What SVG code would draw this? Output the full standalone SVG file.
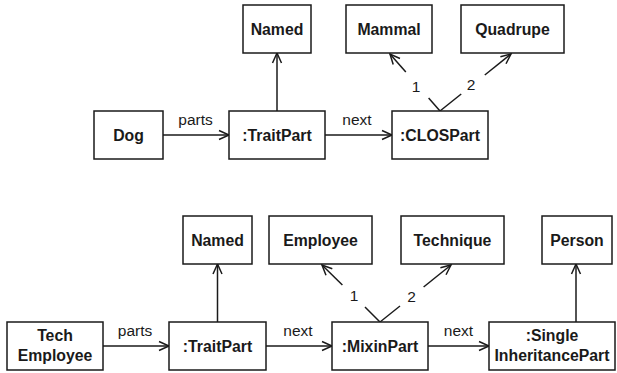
<svg xmlns="http://www.w3.org/2000/svg" width="617" height="373" viewBox="0 0 617 373">
<style>
.box{fill:#fff;stroke:#1a1a1a;stroke-width:1.5}
.t{font-family:"Liberation Sans",Arial,sans-serif;font-size:15.8px;font-weight:bold;fill:#1a1a1a;text-anchor:middle}
.l{font-family:"Liberation Sans",Arial,sans-serif;font-size:15.5px;fill:#1a1a1a;text-anchor:middle}
.c{fill:none;stroke:#1a1a1a;stroke-width:1.5}
</style>
<defs>
<marker id="ah" markerUnits="userSpaceOnUse" markerWidth="12" markerHeight="12" refX="10" refY="5" orient="auto" overflow="visible">
<path d="M0,0.5 L10,5 L0,9.5" fill="none" stroke="#1a1a1a" stroke-width="1.5"/>
</marker>
</defs>
<g id="connectors">
<line class="c" x1="163" y1="135" x2="229" y2="135" marker-end="url(#ah)"/>
<line class="c" x1="325" y1="135" x2="392" y2="135" marker-end="url(#ah)"/>
<line class="c" x1="277" y1="111" x2="277" y2="53" marker-end="url(#ah)"/>
<line class="c" x1="440" y1="111" x2="428.6" y2="98"/>
<line class="c" x1="405.8" y1="72" x2="390" y2="54" marker-end="url(#ah)"/>
<line class="c" x1="440" y1="111" x2="461.2" y2="94"/>
<line class="c" x1="484.8" y1="75" x2="511" y2="54" marker-end="url(#ah)"/>
<line class="c" x1="103" y1="346" x2="169" y2="346" marker-end="url(#ah)"/>
<line class="c" x1="266" y1="346" x2="332" y2="346" marker-end="url(#ah)"/>
<line class="c" x1="428" y1="346" x2="489" y2="346" marker-end="url(#ah)"/>
<line class="c" x1="217.5" y1="322" x2="217.5" y2="264" marker-end="url(#ah)"/>
<line class="c" x1="576" y1="322" x2="576" y2="264" marker-end="url(#ah)"/>
<line class="c" x1="380" y1="322" x2="365" y2="307"/>
<line class="c" x1="342.4" y1="285" x2="322" y2="265" marker-end="url(#ah)"/>
<line class="c" x1="380" y1="322" x2="400" y2="306"/>
<line class="c" x1="423.6" y1="287" x2="451" y2="265" marker-end="url(#ah)"/>
<text class="l" x="195.5" y="125">parts</text>
<text class="l" x="357" y="125">next</text>
<text class="l" x="416" y="91.5">1</text>
<text class="l" x="471" y="89.5">2</text>
<text class="l" x="135" y="336">parts</text>
<text class="l" x="298" y="336">next</text>
<text class="l" x="458.5" y="336">next</text>
<text class="l" x="354" y="300.5">1</text>
<text class="l" x="411.5" y="301.5">2</text>
</g>
<g id="named1"><rect class="box" x="243" y="5" width="68" height="48"/><text class="t" x="277" y="34.5">Named</text></g>
<g id="mammal"><rect class="box" x="346" y="5" width="86" height="48"/><text class="t" x="389" y="34.5">Mammal</text></g>
<g id="quadrupe"><rect class="box" x="461" y="5" width="103" height="48"/><text class="t" x="512.5" y="34.5">Quadrupe</text></g>
<g id="dog"><rect class="box" x="94" y="111" width="69" height="48"/><text class="t" x="128.5" y="140.5">Dog</text></g>
<g id="traitpart1"><rect class="box" x="229" y="111" width="96" height="48"/><text class="t" x="277" y="140.5">:TraitPart</text></g>
<g id="clospart"><rect class="box" x="392" y="111" width="96" height="48"/><text class="t" x="440" y="140.5">:CLOSPart</text></g>
<g id="named2"><rect class="box" x="183" y="216" width="69" height="48"/><text class="t" x="217.5" y="245.5">Named</text></g>
<g id="employee"><rect class="box" x="269" y="216" width="103" height="48"/><text class="t" x="320.5" y="245.5">Employee</text></g>
<g id="technique"><rect class="box" x="401" y="216" width="103" height="48"/><text class="t" x="452.5" y="245.5">Technique</text></g>
<g id="person"><rect class="box" x="542" y="216" width="70" height="48"/><text class="t" x="577" y="245.5">Person</text></g>
<g id="techemployee"><rect class="box" x="7" y="322" width="96" height="48"/><text class="t" x="55" y="341">Tech</text><text class="t" x="55" y="360.5">Employee</text></g>
<g id="traitpart2"><rect class="box" x="169" y="322" width="97" height="48"/><text class="t" x="217.5" y="351.5">:TraitPart</text></g>
<g id="mixinpart"><rect class="box" x="332" y="322" width="96" height="48"/><text class="t" x="380" y="351.5">:MixinPart</text></g>
<g id="singlepart"><rect class="box" x="489" y="322" width="126" height="48"/><text class="t" x="552" y="341">:Single</text><text class="t" x="552" y="360.5">InheritancePart</text></g>
</svg>
